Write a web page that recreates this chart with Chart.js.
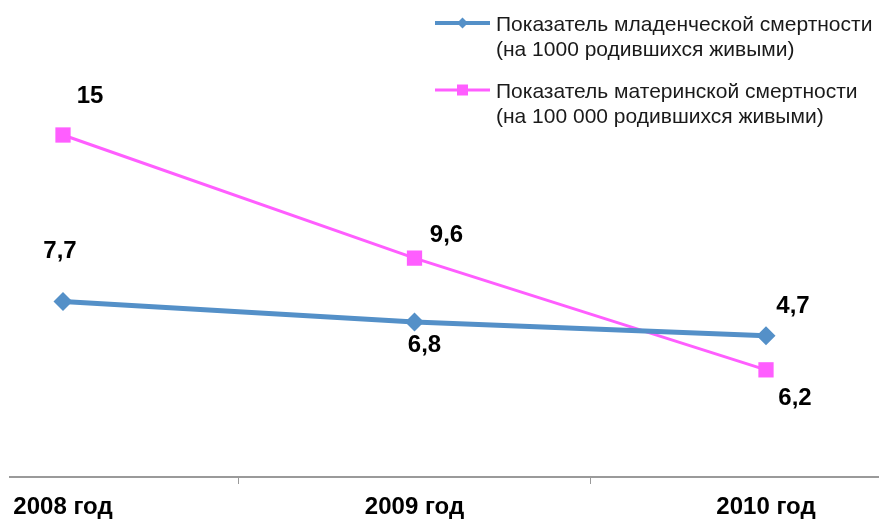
<!DOCTYPE html>
<html>
<head>
<meta charset="utf-8">
<script src="https://cdn.jsdelivr.net/npm/chart.js@4.4.1/dist/chart.umd.min.js"></script>
<style>
  html, body { margin: 0; padding: 0; background: #fff; overflow: hidden; }
  #wrap { width: 879px; height: 519px; }
</style>
</head>
<body>
<div id="wrap"><canvas id="c" width="879" height="519"></canvas></div>
<script>
const categories = ['2008 год', '2009 год', '2010 год'];
const infantMortality = [7.7, 6.8, 6.2];
const maternalMortality = [15, 9.6, 4.7];
const infantLabel = ['Показатель младенческой смертности', '(на 1000 родившихся живыми)'];
const maternalLabel = ['Показатель материнской смертности', '(на 100 000 родившихся живыми)'];
const xTickPositions = [0, 0.5, 1, 1.5, 2];

const FONT = "'Liberation Sans', Arial, sans-serif";
const BLUE = '#5490C8';
const PINK = '#FF5EFF';

function fmt(v) { return String(v).replace('.', ','); }

const pointLabelsPlugin = {
  id: 'pointLabels',
  afterDatasetsDraw(chart, args, opts) {
    const ctx = chart.ctx;
    ctx.save();
    ctx.font = 'bold 24px ' + FONT;
    ctx.fillStyle = '#000';
    ctx.textAlign = 'center';
    ctx.textBaseline = 'alphabetic';
    chart.data.datasets.forEach((ds, di) => {
      const meta = chart.getDatasetMeta(di);
      const offs = opts.offsets[di];
      meta.data.forEach((pt, i) => {
        const o = offs[i];
        ctx.fillText(fmt(ds.data[i].y), pt.x + o[0], pt.y + o[1]);
      });
    });
    ctx.restore();
  }
};

const legendPlugin = {
  id: 'customLegend',
  afterDraw(chart, args, opts) {
    const ctx = chart.ctx;
    ctx.save();
    chart.data.datasets.forEach((ds, di) => {
      const it = opts.items[di];
      ctx.strokeStyle = ds.borderColor;
      ctx.lineWidth = it.lineWidth;
      ctx.beginPath();
      ctx.moveTo(it.x0, it.y);
      ctx.lineTo(it.x1, it.y);
      ctx.stroke();
      ctx.fillStyle = ds.borderColor;
      const cx = (it.x0 + it.x1) / 2;
      ctx.beginPath();
      if (ds.pointStyle === 'rectRot') {
        const r = it.marker;
        ctx.moveTo(cx - r, it.y);
        ctx.lineTo(cx, it.y - r);
        ctx.lineTo(cx + r, it.y);
        ctx.lineTo(cx, it.y + r);
        ctx.closePath();
      } else {
        const s = it.marker;
        ctx.rect(cx - s, it.y - s, 2 * s, 2 * s);
      }
      ctx.fill();
      ctx.fillStyle = '#1a1a1a';
      ctx.font = '21px ' + FONT;
      ctx.textAlign = 'left';
      ctx.textBaseline = 'alphabetic';
      ds.label.forEach((line, li) => {
        ctx.fillText(line, it.tx, it.baseline + li * it.lineHeight);
      });
    });
    ctx.restore();
  }
};

const toPoints = arr => arr.map((v, i) => ({ x: i, y: v }));

new Chart(document.getElementById('c'), {
  type: 'line',
  data: {
    datasets: [
      {
        label: infantLabel,
        data: toPoints(infantMortality),
        borderColor: BLUE,
        backgroundColor: BLUE,
        borderWidth: 5,
        pointStyle: 'rectRot',
        pointRadius: 9.5,
        pointBorderWidth: 0,
        pointBackgroundColor: BLUE,
        tension: 0
      },
      {
        label: maternalLabel,
        data: toPoints(maternalMortality),
        borderColor: PINK,
        backgroundColor: PINK,
        borderWidth: 3,
        pointStyle: 'rect',
        pointRadius: 10.8,
        pointBorderWidth: 0,
        pointBackgroundColor: PINK,
        tension: 0
      }
    ]
  },
  options: {
    responsive: false,
    animation: false,
    devicePixelRatio: 1,
    layout: { autoPadding: false, padding: { left: 10, right: 0, top: 21, bottom: 0 } },
    plugins: {
      legend: { display: false },
      tooltip: { enabled: false },
      pointLabels: {
        offsets: [
          [[-3, -43], [10, 30], [29, 69]],
          [[27, -32], [32, -16], [27, -57]]
        ]
      },
      customLegend: {
        items: [
          { x0: 435, x1: 490, y: 23, lineWidth: 4, marker: 5.5, tx: 496, baseline: 31, lineHeight: 25 },
          { x0: 435, x1: 490, y: 90, lineWidth: 3, marker: 5.5, tx: 496, baseline: 98, lineHeight: 25 }
        ]
      }
    },
    scales: {
      x: {
        type: 'linear',
        min: -0.1508,
        max: 2.3215,
        afterBuildTicks(scale) {
          scale.ticks = xTickPositions.map(v => ({ value: v }));
        },
        afterFit(scale) {
          scale.height = 42;
          scale.paddingLeft = 0;
          scale.paddingRight = 0;
        },
        border: { display: true, color: '#9a9a9a', width: 2 },
        grid: {
          display: true,
          drawOnChartArea: false,
          drawTicks: true,
          tickLength: 7,
          color: c => (c.tick && Number.isInteger(c.tick.value)) ? 'rgba(0,0,0,0)' : '#9a9a9a',
          lineWidth: 1
        },
        ticks: {
          autoSkip: false,
          maxRotation: 0,
          padding: 9,
          color: '#000',
          font: { family: FONT, size: 24, weight: 'bold' },
          callback: v => Number.isInteger(v) ? categories[v] : ''
        }
      },
      y: {
        display: false,
        min: 0,
        max: 20
      }
    }
  },
  plugins: [pointLabelsPlugin, legendPlugin]
});
</script>
</body>
</html>
